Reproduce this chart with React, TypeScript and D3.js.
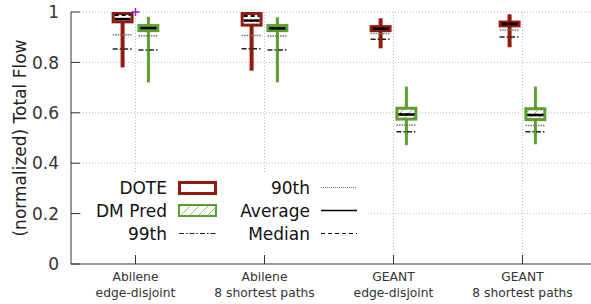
import React from 'react';
import * as d3 from 'd3';

const categories = [
  ['Abilene', 'edge-disjoint'],
  ['Abilene', '8 shortest paths'],
  ['GEANT', 'edge-disjoint'],
  ['GEANT', '8 shortest paths'],
];
const yTicks = [0, 0.2, 0.4, 0.6, 0.8, 1];

// DOTE
const doteBoxLow = [0.955, 0.942, 0.92, 0.939];
const doteBoxHigh = [1.0, 1.0, 0.948, 0.966];
const doteWhiskLow = [0.78, 0.767, 0.856, 0.86];
const doteWhiskHigh = [1.0, 1.0, 0.975, 0.991];
const doteMedian = [0.988, 0.984, 0.935, 0.954];
const doteAverage = [0.972, 0.966, 0.933, 0.952];
const dote90 = [0.91, 0.907, 0.915, 0.929];
const dote99 = [0.853, 0.854, 0.892, 0.901];

// DM Pred
const dmBoxLow = [0.92, 0.92, 0.569, 0.567];
const dmBoxHigh = [0.952, 0.952, 0.624, 0.622];
const dmWhiskLow = [0.721, 0.721, 0.472, 0.475];
const dmWhiskHigh = [0.981, 0.979, 0.704, 0.704];
const dmMedian = [0.937, 0.936, 0.594, 0.592];
const dmAverage = [0.936, 0.935, 0.593, 0.591];
const dm90 = [0.906, 0.905, 0.552, 0.55];
const dm99 = [0.849, 0.849, 0.525, 0.525];

const W = 591;
const H = 304;
const RED = '#921c0e';
const GREEN = '#5c9e31';
const FONT = '"DejaVu Sans", Verdana, sans-serif';

export default function App() {
  const x = d3.scaleLinear().domain([0.5, 4.5]).range([71, 587]);
  const y = d3.scaleLinear().domain([0, 1]).range([264, 12]);
  const off = 0.1;
  const half = 0.085;

  const series = [
    {
      name: 'DOTE', color: RED, shift: -off, whiskW: 4, fill: '#fff',
      lo: doteBoxLow, hi: doteBoxHigh, wl: doteWhiskLow, wh: doteWhiskHigh,
      med: doteMedian, avg: doteAverage, p90: dote90, p99: dote99,
    },
    {
      name: 'DM Pred', color: GREEN, shift: off, whiskW: 3, fill: 'url(#hatch)',
      lo: dmBoxLow, hi: dmBoxHigh, wl: dmWhiskLow, wh: dmWhiskHigh,
      med: dmMedian, avg: dmAverage, p90: dm90, p99: dm99,
    },
  ];

  const gridDash = '1,2';

  return (
    <div>
      <style>{`body{margin:0}`}</style>
      <svg width={W} height={H} style={{ display: 'block', fontFamily: FONT }}>
        <defs>
          <pattern id="hatch" patternUnits="userSpaceOnUse" width="9" height="9">
            <rect width="9" height="9" fill="#fff" />
            <line x1="0" y1="9" x2="9" y2="0" stroke="#8cc46a" strokeWidth="1" />
          </pattern>
        </defs>

        {/* grid */}
        {yTicks.filter(t => t > 0).map(t => (
          <line key={'gy' + t} x1={x(0.5)} x2={W} y1={y(t)} y2={y(t)}
            stroke="#bbb" strokeDasharray={gridDash} />
        ))}
        {categories.map((c, i) => (
          <line key={'gx' + i} x1={x(i + 1)} x2={x(i + 1)} y1={y(1)} y2={y(0)}
            stroke="#bbb" strokeDasharray={gridDash} />
        ))}

        {/* legend background */}
        <rect x={82} y={174} width={284} height={78} fill="#fff" />

        {/* axes */}
        <line x1={x(0.5)} x2={x(0.5)} y1={y(1)} y2={y(0)} stroke="#333" />
        <line x1={x(0.5)} x2={W} y1={y(0)} y2={y(0)} stroke="#333" />
        {yTicks.map(t => (
          <g key={'yt' + t}>
            <line x1={x(0.5)} x2={x(0.5) + 9} y1={y(t)} y2={y(t)} stroke="#333" />
            <text x={59} y={y(t)} dy="0.36em" textAnchor="end" fontSize={17} fill="#333">
              {t === 0 || t === 1 ? String(t) : t.toFixed(1)}
            </text>
          </g>
        ))}
        {categories.map((c, i) => (
          <g key={'xt' + i}>
            <line x1={x(i + 1)} x2={x(i + 1)} y1={y(0)} y2={y(0) - 9} stroke="#333" />
            <text x={x(i + 1)} y={281} textAnchor="middle" fontSize={12.3} fill="#333">{c[0]}</text>
            <text x={x(i + 1)} y={297} textAnchor="middle" fontSize={12.3} fill="#333">{c[1]}</text>
          </g>
        ))}
        <text transform={`translate(26,138) rotate(-90)`} textAnchor="middle" fontSize={17} fill="#222">
          (normalized) Total Flow
        </text>

        {/* boxes */}
        {series.map(s => (
          <g key={s.name}>
            {categories.map((c, i) => {
              const cx = x(i + 1 + s.shift);
              const x0 = x(i + 1 + s.shift - half);
              const x1 = x(i + 1 + s.shift + half);
              return (
                <g key={i}>
                  <line x1={cx} x2={cx} y1={y(s.wh[i])} y2={y(s.wl[i])}
                    stroke={s.color} strokeWidth={s.whiskW} />
                  <rect x={x0 + 1.5} y={y(s.hi[i]) + 1.5} width={x1 - x0 - 3}
                    height={Math.max(0, y(s.lo[i]) - y(s.hi[i]) - 3)}
                    fill={s.fill} stroke={s.color} strokeWidth={3} />
                  <line x1={x0 + 3} x2={x1 - 3} y1={y(s.med[i])} y2={y(s.med[i])}
                    stroke="#000" strokeWidth={2} strokeDasharray="4,3" />
                  <line x1={x0 + 3} x2={x1 - 3} y1={y(s.avg[i])} y2={y(s.avg[i])}
                    stroke="#000" strokeWidth={2.5} />
                  <line x1={x0 + 1} x2={x1 - 1} y1={y(s.p90[i])} y2={y(s.p90[i])}
                    stroke="#777" strokeWidth={1.5} strokeDasharray="1.5,1" />
                  <line x1={x0 + 1} x2={x1 - 1} y1={y(s.p99[i])} y2={y(s.p99[i])}
                    stroke="#222" strokeWidth={1.5} strokeDasharray="5,2,1.5,2" />
                </g>
              );
            })}
          </g>
        ))}

        {/* stray point */}
        <g stroke="#9a1ad6" strokeWidth={1.5}>
          <line x1={x(1) - 4} x2={x(1) + 4} y1={y(1)} y2={y(1)} />
          <line x1={x(1)} x2={x(1)} y1={y(1) - 4} y2={y(1) + 4} />
        </g>

        {/* legend */}
        <g fontSize={17} fill="#111">
          <text x={167} y={187.5} dy="0.36em" textAnchor="end">DOTE</text>
          <rect x={179.5} y={182.5} width={36} height={11} fill="#fff" stroke={RED} strokeWidth={3} />
          <text x={167} y={210.5} dy="0.36em" textAnchor="end">DM Pred</text>
          <rect x={179} y={205} width={37} height={11} fill="url(#hatch)" stroke={GREEN} strokeWidth={2} />
          <text x={167} y={233.5} dy="0.36em" textAnchor="end">99th</text>
          <line x1={179} x2={216} y1={233.5} y2={233.5} stroke="#222" strokeWidth={1} strokeDasharray="5,2,1.5,2" />

          <text x={310} y={187.5} dy="0.36em" textAnchor="end">90th</text>
          <line x1={321} x2={357} y1={187.5} y2={187.5} stroke="#777" strokeWidth={1} strokeDasharray="1,1" />
          <text x={310} y={210.5} dy="0.36em" textAnchor="end">Average</text>
          <line x1={321} x2={357} y1={210.5} y2={210.5} stroke="#000" strokeWidth={1.5} />
          <text x={310} y={233.5} dy="0.36em" textAnchor="end">Median</text>
          <line x1={321} x2={357} y1={233.5} y2={233.5} stroke="#000" strokeWidth={1} strokeDasharray="4,3" />
        </g>
      </svg>
    </div>
  );
}
